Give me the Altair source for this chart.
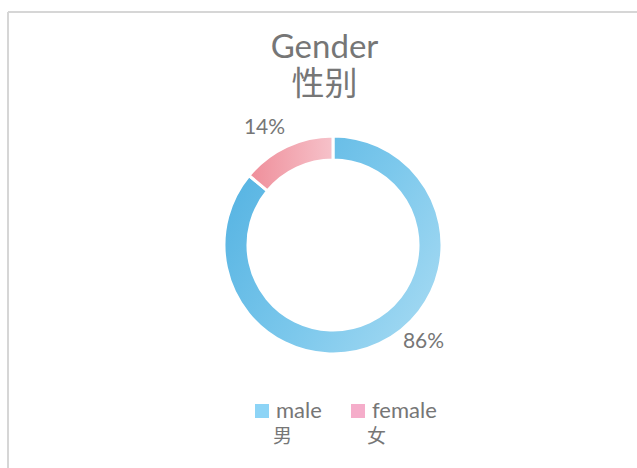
import altair as alt
import pandas as pd

categories = ["male", "female"]
categories_cn = ["男", "女"]
shares = [86, 14]
share_labels = ["86%", "14%"]
stack_order = [0, 1]
legend_colors = ["#8dd4f6", "#f5adca"]

df = pd.DataFrame({
    "gender": categories,
    "gender_cn": categories_cn,
    "share": shares,
    "label": share_labels,
    "order": stack_order,
})

FONT = "Lato, 'Noto Sans CJK SC', sans-serif"
GREY = "#767676"
FRAME = "#d6d6d6"
CX, CY = 325, 233
W, H = 629, 456

grad_male = {
    "gradient": "linear", "x1": 0, "y1": 0.2, "x2": 1, "y2": 0.8,
    "stops": [
        {"offset": 0, "color": "#55b3e2"},
        {"offset": 0.55, "color": "#7cc8ec"},
        {"offset": 1, "color": "#a3d9f2"},
    ],
}
grad_female = {
    "gradient": "linear", "x1": 0, "y1": 0.5, "x2": 1, "y2": 0.5,
    "stops": [
        {"offset": 0, "color": "#ef8e9a"},
        {"offset": 1, "color": "#f6c2ca"},
    ],
}

theta_scale = alt.Scale(domain=[0, 100], range=[0, 6.283185307])

legend_common = dict(
    title=None,
    orient="none",
    direction="horizontal",
    symbolType="square",
    symbolSize=196,
    symbolStrokeWidth=0,
    labelFont=FONT,
    labelColor=GREY,
    labelOffset=3,
    labelBaseline="middle",
    padding=0,
)

base = alt.Chart(df).encode(
    theta=alt.Theta("share:Q", stack=True, scale=theta_scale),
    order=alt.Order("order:Q"),
    x=alt.value(CX),
    y=alt.value(CY),
)

legend_arc = base.mark_arc(innerRadius=85, outerRadius=109, stroke="white", strokeWidth=3).encode(
    color=alt.Color(
        "gender:N",
        scale=alt.Scale(domain=categories, range=legend_colors),
        legend=alt.Legend(legendX=243, legendY=388, columnPadding=25, symbolOpacity=1,
                          labelFontSize=22, **legend_common),
    )
)

grad_arc = base.mark_arc(innerRadius=85, outerRadius=109, stroke="white", strokeWidth=3).encode(
    fill=alt.condition("datum.gender == 'male'", alt.value(grad_male), alt.value(grad_female))
)

# invisible layer that only carries the second (Chinese) legend line
cn_legend = alt.Chart(df).mark_point(opacity=0).encode(
    x=alt.value(CX),
    y=alt.value(CY),
    shape=alt.Shape(
        "gender_cn:N",
        scale=alt.Scale(domain=categories_cn, range=["square", "square"]),
        legend=alt.Legend(legendX=243, legendY=415, columnPadding=52, symbolOpacity=0,
                          labelFontSize=19, **legend_common),
    ),
)

text_base = (
    alt.Chart(df)
    .transform_stack(stack="share", as_=["s0", "s1"], groupby=[], sort=[alt.SortField("order")])
    .transform_calculate(mid="(datum.s0 + datum.s1) / 2")
)


def label_layer(cat, dx, dy):
    return (
        text_base.transform_filter(alt.datum.gender == cat)
        .mark_text(radius=135, font=FONT, fontSize=21, color=GREY, dx=dx, dy=dy)
        .encode(
            theta=alt.Theta("mid:Q", stack=False, scale=theta_scale),
            text="label:N",
            x=alt.value(CX),
            y=alt.value(CY),
        )
    )


frame_top = alt.Chart(df).mark_rule(color=FRAME, strokeWidth=2).encode(
    x=alt.value(0), x2=alt.value(W), y=alt.value(0)
)
frame_left = alt.Chart(df).mark_rule(color=FRAME, strokeWidth=2).encode(
    x=alt.value(0), y=alt.value(0), y2=alt.value(H)
)

chart = (
    alt.layer(
        frame_top, frame_left, legend_arc, grad_arc, cn_legend,
        label_layer("male", 33, -25), label_layer("female", -11, 5),
    )
    .properties(
        width=W,
        height=H,
        padding={"left": 8, "top": 12, "right": 0, "bottom": 0},
        autosize=alt.AutoSizeParams(type="none"),
        title=alt.TitleParams(
            text=["Gender", "性别"],
            font=FONT,
            fontSize=33,
            fontWeight="normal",
            color=GREY,
            lineHeight=37,
            anchor="middle",
            frame="group",
            offset=-91,
            dx=2,
        ),
    )
    .resolve_legend(color="independent", shape="independent")
    .configure_view(stroke=None)
    .configure(background="white")
)

chart.save("out.html", embed_options={"renderer": "svg", "actions": False})
